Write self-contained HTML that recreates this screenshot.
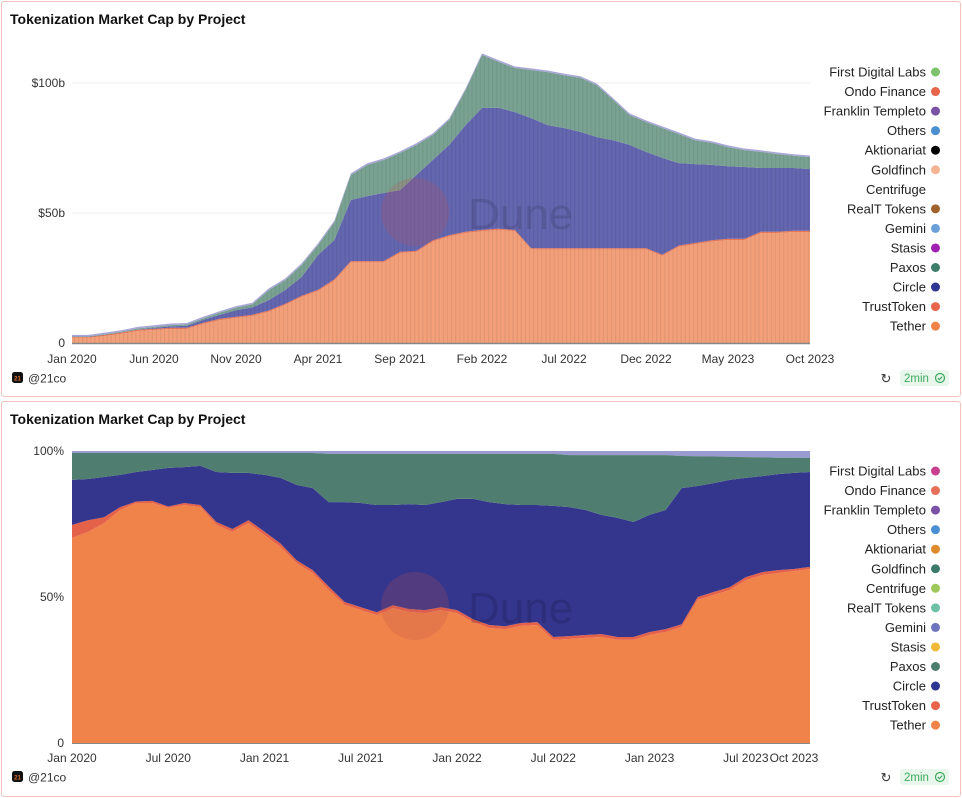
<!DOCTYPE html>
<html><head><meta charset="utf-8">
<style>
body{margin:0;background:#fff;font-family:"Liberation Sans",sans-serif;}
.card{position:absolute;left:1px;width:958px;border:1px solid #f3c3bb;border-radius:3px;background:#fff}
</style></head>
<body>
<div class="card" style="top:1px;height:394px"></div>
<div class="card" style="top:401px;height:394px"></div>
<svg id="svg" width="962" height="798" style="position:absolute;left:0;top:0">
<defs>
<pattern id="stripes" width="4.1" height="10" patternUnits="userSpaceOnUse"><rect x="0" y="0" width="1.2" height="10" fill="rgba(0,0,0,0.07)"/></pattern>
</defs>
</svg>
<script>
// ---- top chart data ($b), monthly Jan 2020 .. Oct 2023
const topTether=[2,2,2.7,3.5,4.6,5,5.4,5.4,7.3,8.8,9.6,10.4,12,14.6,17.7,20,24,31,31,31,34.6,35,39,41,42.3,43,43.5,43,36,36,36,36,36,36,36,36,33.5,37,38,39,39.6,39.6,42.3,42.3,42.7,42.7];
const topCircle=[0.3,0.3,0.4,0.5,0.6,0.8,1,1.2,1.6,2,3,3.3,4.5,5.8,7.7,13.8,15.6,24,25.5,26.7,24.2,29.6,31.4,35.2,41.5,47.4,47,45.8,50.5,47.8,46.7,45.2,43.2,42,40.2,37.5,37.7,32.2,30.8,29.5,28.4,28.1,25,25,24.6,24.2];
const topPaxos=[0.2,0.2,0.3,0.3,0.4,0.4,0.5,0.5,0.6,0.8,1,1.2,3.9,3.8,4.6,3.9,6.9,9.6,12,12.7,14.3,11.6,9.6,9.6,13.5,20.4,17.7,17,18.5,20.4,20.3,20.8,20,15.5,11.5,11.5,11.5,11.2,9.2,8.5,7.4,6.5,6.2,5.4,4.7,4.6];
const topTicks=["Jan 2020","Jun 2020","Nov 2020","Apr 2021","Sep 2021","Feb 2022","Jul 2022","Dec 2022","May 2023","Oct 2023"];
const topYTicks=[0,50,100];
const topYLabels=["0","$50b","$100b"];
// ---- bottom chart data (%), monthly Jan 2020 .. Nov 2023
const botTether=[70.2,72.3,75.3,79.8,82.2,82.2,80.5,81.5,80.8,74.7,72.3,75.3,71.2,67.1,61.6,58.2,52.4,47.3,45.5,43.8,46.2,44.9,44.5,45.5,44.5,41.4,39.4,39,40.1,40.4,35.3,35.6,36,36.3,35.3,35.3,37,38,39.7,49,50.7,52.4,55.8,57.5,58.2,58.9,59.6];
const botTrust=[4.5,4,2,1,0.5,0.7,0.5,0.7,0.7,1,1,1,1.2,1.2,1,1,1.2,1,1,1,1,1,1,1,1,1,1,1,1,1,1,1,1,1,1,1,1,1,1,1,1,1,1,1,1,0.7,0.7];
const botCircle=[15.4,14.1,13.8,11,10.1,10.6,13.2,12.3,13.4,17.1,19.2,16.2,19.4,22.5,25.8,28.1,28.9,34.2,35.7,36.7,34.3,35.9,36,36,38.1,41.2,42.1,41.8,40.4,40.1,44.9,44.2,42.8,40.8,40.8,39.4,40.1,40.8,46.6,38,37.3,36.7,34,32.9,32.9,32.9,32.5];
const botPaxos=[9.2,8.9,8.2,7.5,6.5,5.8,5.1,4.8,4.4,6.5,6.8,6.8,7.5,8.5,10.9,12,16.5,16.5,16.8,17.5,17.5,17.2,17.5,16.5,15.4,15.4,16.5,17.2,17.5,17.5,17.8,17.8,18.8,20.5,21.5,22.9,20.5,18.8,11,10.2,9.1,7.9,7.1,6.4,5.6,5.2,4.8];
const botTicks=[["Jan 2020",0],["Jul 2020",6],["Jan 2021",12],["Jul 2021",18],["Jan 2022",24],["Jul 2022",30],["Jan 2023",36],["Jul 2023",42],["Oct 2023",45]];
const botYTicks=[0,50,100];
const botYLabels=["0","50%","100%"];
const legendTop=[["First Digital Labs","#7dc36b"],["Ondo Finance","#e8654c"],["Franklin Templeto","#7952a4"],["Others","#4a8fd0"],["Aktionariat","#000"],["Goldfinch","#f5b493"],["Centrifuge","none"],["RealT Tokens","#a0622d"],["Gemini","#6a9fd8"],["Stasis","#a01fb0"],["Paxos","#3d7d69"],["Circle","#2f3593"],["TrustToken","#e8654c"],["Tether","#f08347"]];
const legendBot=[["First Digital Labs","#c9418e"],["Ondo Finance","#e6705a"],["Franklin Templeto","#7a52a8"],["Others","#4b8fd4"],["Aktionariat","#e08a2e"],["Goldfinch","#3b7a69"],["Centrifuge","#9ec95a"],["RealT Tokens","#6fc1a6"],["Gemini","#6b74bd"],["Stasis","#f1b836"],["Paxos","#4d7d6e"],["Circle","#2f3593"],["TrustToken","#e9634a"],["Tether","#f08347"]];

const svg=document.getElementById('svg');
const NS="http://www.w3.org/2000/svg";
function mk(tag,attrs,parent){const e=document.createElementNS(NS,tag);for(const k in attrs)e.setAttribute(k,attrs[k]);(parent||svg).appendChild(e);return e;}
function txt(s,attrs){const e=mk('text',attrs);e.textContent=s;return e;}

const tx=i=>72+i*(738/45), ty=v=>343-v*2.6;
const bx=i=>72+i*(738/46), by=v=>743-v*2.92;

function areaPath(xf,yf,lower,upper){let d='';for(let i=0;i<upper.length;i++)d+=(i?'L':'M')+xf(i).toFixed(1)+','+yf(upper[i]).toFixed(1);for(let i=lower.length-1;i>=0;i--)d+='L'+xf(i).toFixed(1)+','+yf(lower[i]).toFixed(1);return d+'Z';}
function cum(base,add){return base.map((v,i)=>v+add[i]);}

let t=txt("Tokenization Market Cap by Project",{x:10,y:24,'font-size':14,'font-weight':'bold',fill:'#111'});

t=txt("Tokenization Market Cap by Project",{x:10,y:424,'font-size':14,'font-weight':'bold',fill:'#111'});


topYTicks.forEach((v,k)=>{
  const l=mk('line',{x1:72,x2:810,y1:ty(v),y2:ty(v),stroke:k?'#eee':'#999','stroke-width':k?1:1.5});
  
  const e=txt(topYLabels[k],{x:65,y:ty(v)+4,'text-anchor':'end','font-size':12,fill:'#333'});
  
});
const z=topTether.map(()=>0);
const c1=topTether, c2=cum(c1,topCircle), c3=cum(c2,topPaxos);
let p=mk('path',{d:areaPath(tx,ty,z,c1),fill:'#f3a07a'});
p=mk('path',{d:areaPath(tx,ty,c1,c1.map(v=>v+0.5)),fill:'#ea7a5a'});
p=mk('path',{d:areaPath(tx,ty,c1.map(v=>v+0.5),c2),fill:'#6466b0'});
p=mk('path',{d:areaPath(tx,ty,c2,c3),fill:'#7aa293'});
p=mk('path',{d:areaPath(tx,ty,c3,c3.map(v=>v+0.6)),fill:'#a9a6d8'});
p=mk('path',{d:areaPath(tx,ty,z,c3),fill:'url(#stripes)'});
mk('line',{x1:72,x2:810,y1:343.5,y2:343.5,stroke:'#888','stroke-width':1.5});
topTicks.forEach((s,k)=>{const e=txt(s,{x:tx(k*5),y:363,'text-anchor':'middle','font-size':12,fill:'#333'});
  });

const b1=botTether,b2=cum(b1,botTrust),b3=cum(b2,botCircle),b4=cum(b3,botPaxos);
const bz=b1.map(()=>0), b100=b1.map(()=>100);
p=mk('path',{d:areaPath(bx,by,b4,b100),fill:'#9a9bd0'});
p=mk('path',{d:areaPath(bx,by,bz,b1),fill:'#ef8349'});
p=mk('path',{d:areaPath(bx,by,b1,b2),fill:'#e5624a'});
p=mk('path',{d:areaPath(bx,by,b2,b3),fill:'#34358c'});
p=mk('path',{d:areaPath(bx,by,b3,b4),fill:'#4f7d6f'});
botYTicks.forEach((v,k)=>{const e=txt(botYLabels[k],{x:64,y:by(v)+4,'text-anchor':'end','font-size':12,fill:'#333'});
  });
mk('line',{x1:72,x2:810,y1:743.5,y2:743.5,stroke:'#888','stroke-width':1});
botTicks.forEach(([s,i])=>{const e=txt(s,{x:bx(i),y:762,'text-anchor':'middle','font-size':12,fill:'#333'});
  });

[[212],[606]].forEach(([cy])=>{
  const c=mk('circle',{cx:415,cy:cy,r:34,fill:'rgba(190,80,80,0.22)'});
  const e=txt("Dune",{x:468,y:cy+17,'font-size':44,fill:'rgba(0,0,0,0.12)'});
});

function legend(items,y0){items.forEach(([s,c],k)=>{const y=y0+k*19.55;
  const e=txt(s,{x:926,y:y+4.5,'text-anchor':'end','font-size':13,fill:'#222'});
  if(c!=='none'){const d=mk('circle',{cx:935.5,cy:y,r:4.5,fill:c});}
});}
legend(legendTop,72);legend(legendBot,471);

[[378],[777]].forEach(([y])=>{
  const r=mk('rect',{x:12,y:y-6,width:11,height:11,rx:2.5,fill:'#111'});
  txt("21",{x:17.5,y:y+2.5,'font-size':6,'text-anchor':'middle',fill:'#e0702a','font-weight':'bold'});
  const e=txt("@21co",{x:28,y:y+4.5,'font-size':12,fill:'#333'});
  const ic=txt("↻",{x:886,y:y+5,'font-size':13,'text-anchor':'middle',fill:'#333'});
  const bg=mk('rect',{x:900,y:y-8,width:49,height:16,rx:3,fill:'#e8f6ec'});
  txt("2min",{x:904,y:y+4,'font-size':11.5,fill:'#3caa5c'});
  mk('circle',{cx:940,cy:y,r:4.5,fill:'none',stroke:'#3caa5c','stroke-width':1.2});
  mk('path',{d:`M937.8,${y} l1.6,1.6 l2.8,-3`,fill:'none',stroke:'#3caa5c','stroke-width':1.2});
});
</script>
</body></html>
